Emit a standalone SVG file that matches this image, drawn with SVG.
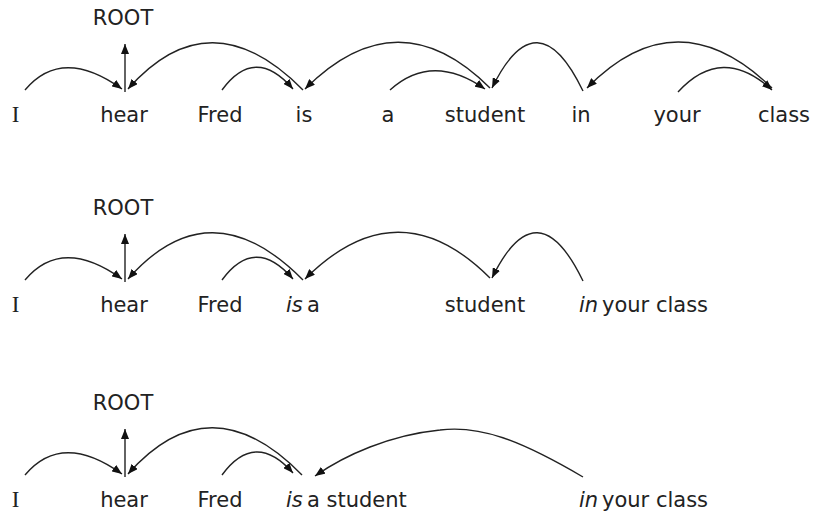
<svg xmlns="http://www.w3.org/2000/svg" width="814" height="513" viewBox="0 0 814 513">
<defs>
<style>
text{font-family:"DejaVu Sans","Liberation Sans",sans-serif;font-size:21px;fill:#222;text-anchor:middle}
text.serif{font-family:"Liberation Serif","DejaVu Serif",serif;font-size:23px}
text.st{text-anchor:start}
.it{font-style:italic}
.arc{fill:none;stroke:#222;stroke-width:1.4}
.arr{marker-end:url(#ah)}
</style>
<marker id="ah" viewBox="0 0 10 8" refX="10" refY="4" markerWidth="10" markerHeight="8" orient="auto" markerUnits="userSpaceOnUse">
<path d="M0,0 L10,4 L0,8 z" fill="#111"/>
</marker>
</defs>
<rect width="814" height="513" fill="#fff"/>

<!-- Panel 1 -->
<g id="panel1">
<g id="p1-root"><text x="123" y="25">ROOT</text></g>
<g id="p1-I"><text class="serif" x="15.5" y="122">I</text></g>
<g id="p1-hear"><text x="124" y="122">hear</text></g>
<g id="p1-Fred"><text x="220" y="122">Fred</text></g>
<g id="p1-is"><text x="304" y="122">is</text></g>
<g id="p1-a"><text x="388" y="122">a</text></g>
<g id="p1-student"><text x="485" y="122">student</text></g>
<g id="p1-in"><text x="581" y="122">in</text></g>
<g id="p1-your"><text x="677" y="122">your</text></g>
<g id="p1-class"><text x="784" y="122">class</text></g>
<g id="p1-connectors">
<path class="arc arr" d="M25,90 Q62,46 122,89"/>
<path class="arc arr" d="M125,92 L125,44"/>
<path class="arc arr" d="M303,90 Q210,-4 128,89"/>
<path class="arc arr" d="M222,90 Q255,45 293,89"/>
<path class="arc arr" d="M490,88 Q398,-4 305,89"/>
<path class="arc arr" d="M390,90 Q432,52 485,89"/>
<path class="arc arr" d="M583,91 Q537,-4 492,88"/>
<path class="arc arr" d="M772,88 Q677,-4 587,88"/>
<path class="arc arr" d="M678,92 Q722,44 772,90"/>
</g>
</g>

<!-- Panel 2 -->
<g id="panel2" transform="translate(0,190)">
<g id="p2-root"><text x="123" y="25">ROOT</text></g>
<g id="p2-I"><text class="serif" x="15.5" y="122">I</text></g>
<g id="p2-hear"><text x="124" y="122">hear</text></g>
<g id="p2-Fred"><text x="220" y="122">Fred</text></g>
<g id="p2-isa"><text class="st" x="286" y="122"><tspan class="it">is</tspan> <tspan x="307">a</tspan></text></g>
<g id="p2-student"><text x="485" y="122">student</text></g>
<g id="p2-inyourclass"><text class="st" x="579" y="122"><tspan class="it">in</tspan> <tspan x="602">your class</tspan></text></g>
<g id="p2-connectors">
<path class="arc arr" d="M25,90 Q62,46 122,89"/>
<path class="arc arr" d="M125,92 L125,44"/>
<path class="arc arr" d="M303,90 Q210,-4 128,89"/>
<path class="arc arr" d="M222,90 Q255,45 293,89"/>
<path class="arc arr" d="M490,88 Q398,-4 305,89"/>
<path class="arc arr" d="M583,91 Q537,-4 492,88"/>
</g>
</g>

<!-- Panel 3 -->
<g id="panel3" transform="translate(0,385)">
<g id="p3-root"><text x="123" y="25">ROOT</text></g>
<g id="p3-I"><text class="serif" x="15.5" y="122">I</text></g>
<g id="p3-hear"><text x="124" y="122">hear</text></g>
<g id="p3-Fred"><text x="220" y="122">Fred</text></g>
<g id="p3-isastudent"><text class="st" x="286" y="122"><tspan class="it">is</tspan> <tspan x="307">a student</tspan></text></g>
<g id="p3-inyourclass"><text class="st" x="579" y="122"><tspan class="it">in</tspan> <tspan x="602">your class</tspan></text></g>
<g id="p3-connectors">
<path class="arc arr" d="M25,90 Q62,46 122,89"/>
<path class="arc arr" d="M125,92 L125,44"/>
<path class="arc arr" d="M302,90 Q210,-4 128,89"/>
<path class="arc arr" d="M222,90 Q255,45 293,88"/>
<path class="arc arr" d="M583,92 C520,55 480,40 440,45 C390,50 345,70 315,91"/>
</g>
</g>
</svg>
